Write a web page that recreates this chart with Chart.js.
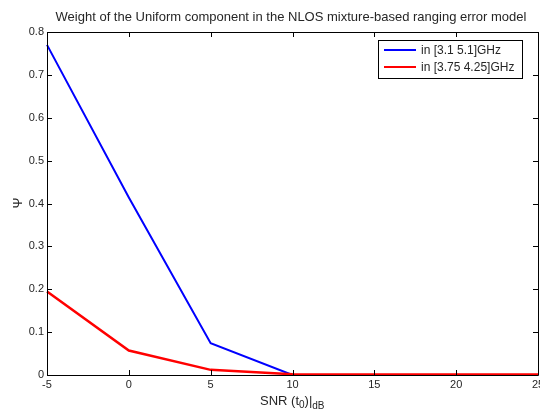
<!DOCTYPE html>
<html lang="en">
<head>
  <meta charset="UTF-8">
  <title>Weight of the Uniform component</title>
  <style>
    body { margin: 0; background: #fff; }
    #chart { display: block; }
  </style>
  <script src="https://cdn.jsdelivr.net/npm/chart.js"></script>
</head>
<body>
  <canvas id="chart" width="540" height="416"></canvas>
  <script>
    // data
    const snr = [-5, 0, 5, 10, 15, 20, 25];
    const psiWide = [0.77, 0.414, 0.074, 0, 0, 0, 0];        // in [3.1 5.1]GHz
    const psiNarrow = [0.195, 0.057, 0.012, 0.002, 0.001, 0.001, 0.001]; // in [3.75 4.25]GHz
    const seriesLabels = ['in [3.1 5.1]GHz', 'in [3.75 4.25]GHz'];
    const xTicks = [-5, 0, 5, 10, 15, 20, 25];
    const yTicks = [0, 0.1, 0.2, 0.3, 0.4, 0.5, 0.6, 0.7, 0.8];

    const FONT = 'Arial, "Liberation Sans", Helvetica, sans-serif';
    const TXT = '#262626';

    function toPoints(ys) {
      return snr.map((x, i) => ({ x: x, y: ys[i] }));
    }

    // matlab style box, inward ticks, title, axis labels and legend
    const matlabAxes = {
      id: 'matlabAxes',
      afterDraw(chart) {
        const ctx = chart.ctx;
        const a = chart.chartArea;
        const xs = chart.scales.x, ys = chart.scales.y;
        ctx.save();
        ctx.strokeStyle = '#000';
        ctx.lineWidth = 1;
        ctx.beginPath();
        ctx.rect(Math.round(a.left) + 0.5, Math.round(a.top) + 0.5,
                 Math.round(a.right - a.left), Math.round(a.bottom - a.top));
        ctx.stroke();

        const tl = 5;
        ctx.beginPath();
        xTicks.forEach(v => {
          const px = Math.round(xs.getPixelForValue(v)) + 0.5;
          ctx.moveTo(px, a.bottom); ctx.lineTo(px, a.bottom - tl);
          ctx.moveTo(px, a.top); ctx.lineTo(px, a.top + tl);
        });
        yTicks.forEach(v => {
          const py = Math.round(ys.getPixelForValue(v)) + 0.5;
          ctx.moveTo(a.left, py); ctx.lineTo(a.left + tl, py);
          ctx.moveTo(a.right, py); ctx.lineTo(a.right - tl, py);
        });
        ctx.stroke();

        // title
        ctx.fillStyle = TXT;
        ctx.font = '13px ' + FONT;
        ctx.textAlign = 'center';
        ctx.textBaseline = 'middle';
        ctx.fillText('Weight of the Uniform component in the NLOS mixture-based ranging error model', 291, 17);

        // x label: SNR (t0)|dB
        ctx.textAlign = 'left';
        ctx.textBaseline = 'alphabetic';
        let x = 260;
        const base = 405;
        ctx.font = '13px ' + FONT;
        ctx.fillText('SNR (t', x, base); x += ctx.measureText('SNR (t').width;
        ctx.font = '10px ' + FONT;
        ctx.fillText('0', x, base + 3); x += ctx.measureText('0').width;
        ctx.font = '13px ' + FONT;
        ctx.fillText(')|', x, base); x += ctx.measureText(')|').width;
        ctx.font = '10px ' + FONT;
        ctx.fillText('dB', x, base + 4);

        // y label
        ctx.save();
        ctx.translate(18, 203);
        ctx.rotate(-Math.PI / 2);
        ctx.font = '13px ' + FONT;
        ctx.textAlign = 'center';
        ctx.textBaseline = 'middle';
        ctx.fillText('\u03A8', 0, 0);
        ctx.restore();

        // legend
        const lx = 378, ly = 40, lw = 144, lh = 38;
        ctx.fillStyle = '#fff';
        ctx.fillRect(lx, ly, lw, lh);
        ctx.strokeStyle = '#000';
        ctx.lineWidth = 1;
        ctx.strokeRect(lx + 0.5, ly + 0.5, lw, lh);
        const cols = ['#0000ff', '#ff0000'];
        ctx.font = '12px ' + FONT;
        ctx.textBaseline = 'middle';
        seriesLabels.forEach((lab, i) => {
          const yy = ly + 10 + i * 17;
          ctx.strokeStyle = cols[i];
          ctx.lineWidth = 2;
          ctx.beginPath();
          ctx.moveTo(lx + 6, yy); ctx.lineTo(lx + 38, yy);
          ctx.stroke();
          ctx.fillStyle = TXT;
          ctx.fillText(lab, lx + 43, yy + 1);
        });
        ctx.restore();
      }
    };

    new Chart(document.getElementById('chart'), {
      type: 'line',
      data: {
        datasets: [
          {
            label: seriesLabels[0],
            data: toPoints(psiWide),
            borderColor: '#0000ff',
            borderWidth: 2,
            pointRadius: 0,
            tension: 0,
            clip: 3,
            order: 1
          },
          {
            label: seriesLabels[1],
            data: toPoints(psiNarrow),
            borderColor: '#ff0000',
            borderWidth: 2.5,
            pointRadius: 0,
            tension: 0,
            clip: 3,
            order: 0
          }
        ]
      },
      options: {
        responsive: false,
        animation: false,
        layout: { padding: { top: 32, right: 2, left: 0, bottom: 0 } },
        plugins: {
          legend: { display: false },
          title: { display: false },
          tooltip: { enabled: false }
        },
        scales: {
          x: {
            type: 'linear',
            min: -5,
            max: 25,
            afterFit(scale) { scale.height = 41; scale.paddingRight = 0; scale.paddingLeft = 0; },
            afterBuildTicks(scale) { scale.ticks = xTicks.map(v => ({ value: v })); },
            grid: { display: false, drawTicks: false },
            border: { display: false },
            ticks: { color: TXT, font: { family: FONT, size: 11 }, padding: 3, maxRotation: 0 }
          },
          y: {
            type: 'linear',
            min: 0,
            max: 0.8,
            afterFit(scale) { scale.width = 47; scale.paddingTop = 0; scale.paddingBottom = 0; },
            afterBuildTicks(scale) { scale.ticks = yTicks.map(v => ({ value: v })); },
            grid: { display: false, drawTicks: false },
            border: { display: false },
            ticks: { color: TXT, font: { family: FONT, size: 11 }, padding: 3 }
          }
        }
      },
      plugins: [matlabAxes]
    });
  </script>
</body>
</html>
